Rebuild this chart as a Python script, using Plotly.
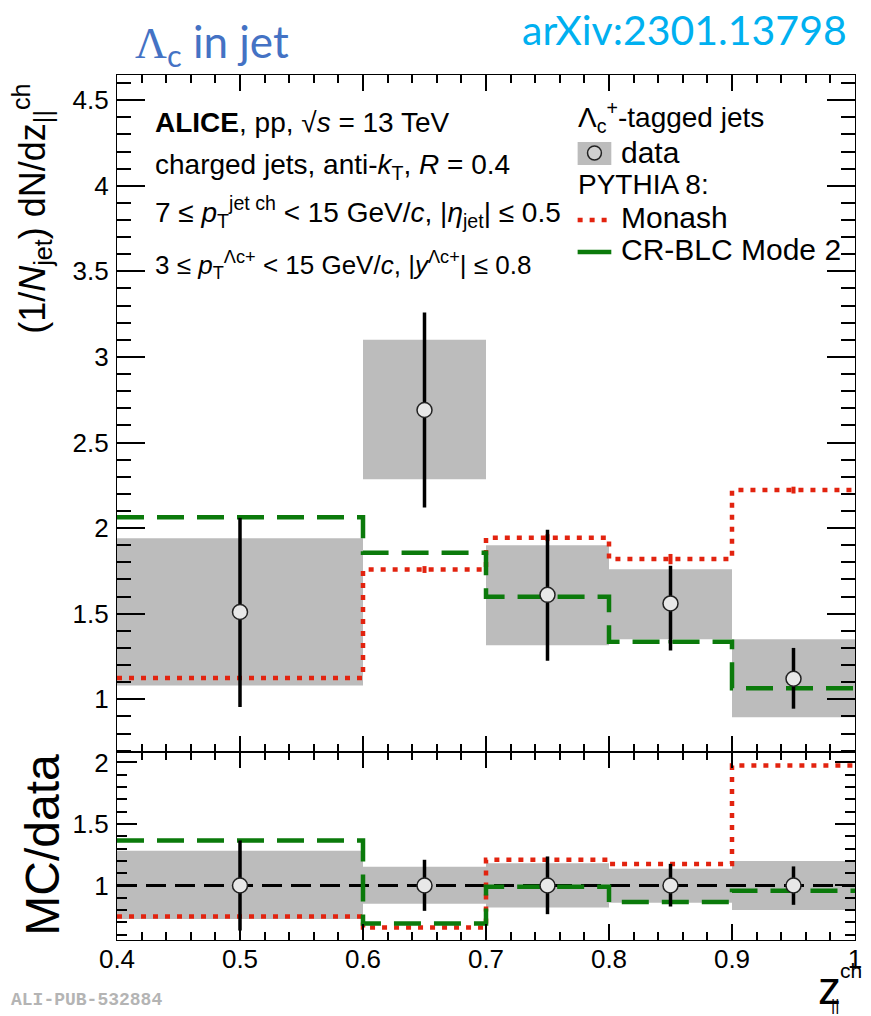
import plotly.graph_objects as go
from plotly.subplots import make_subplots

# ---------------- data ----------------
bin_edges = [0.4, 0.6, 0.7, 0.8, 0.9, 1.0]
bin_centers = [0.5, 0.65, 0.75, 0.85, 0.95]
bin_widths = [0.2, 0.1, 0.1, 0.1, 0.1]

data_val = [1.51, 2.69, 1.61, 1.56, 1.12]
data_stat_hi = [2.06, 3.26, 1.99, 1.78, 1.30]
data_stat_lo = [0.955, 2.12, 1.225, 1.285, 0.945]
data_sys_hi = [1.94, 3.10, 1.90, 1.76, 1.35]
data_sys_lo = [1.08, 2.285, 1.315, 1.35, 0.895]

monash_val = [1.125, 1.758, 1.944, 1.819, 2.222]
monash_err = [0.01, 0.02, 0.02, 0.03, 0.02]
crblc_val = [2.063, 1.856, 1.599, 1.336, 1.064]
crblc_err = [0.005, 0.01, 0.01, 0.01, 0.01]

ratio_val = [1.0, 1.0, 1.0, 1.0, 1.0]
ratio_stat_hi = [1.366, 1.209, 1.236, 1.176, 1.155]
ratio_stat_lo = [0.634, 0.794, 0.767, 0.829, 0.843]
ratio_sys_hi = [1.282, 1.152, 1.18, 1.136, 1.20]
ratio_sys_lo = [0.727, 0.851, 0.821, 0.86, 0.80]
monash_ratio = [0.748, 0.659, 1.209, 1.174, 1.976]
crblc_ratio = [1.366, 0.691, 0.99, 0.865, 0.957]

x_ticks = [0.4, 0.5, 0.6, 0.7, 0.8, 0.9, 1.0]
x_ticklabels = ["0.4", "0.5", "0.6", "0.7", "0.8", "0.9", "1"]
y_ticks_main = [1, 1.5, 2, 2.5, 3, 3.5, 4, 4.5]
y_ticklabels_main = ["1", "1.5", "2", "2.5", "3", "3.5", "4", "4.5"]
y_ticks_ratio = [1, 1.5, 2]
y_ticklabels_ratio = ["1", "1.5", "2"]

# ---------------- style ----------------
OFF = 8                      # page body margin
W, H = 871 - OFF, 1016 - OFF
PL, PR, PT, PB = 117, 862, 75, 940   # plot area in page pixels
SPLIT = 752                  # page pixel row of the panel boundary
PW, PH = PR - PL, PB - PT
RED = "#e2230f"
GREEN = "#0b7a0b"
GRAY = "#bcbcbc"
FONT = "Liberation Sans, Arial, Helvetica, sans-serif"


def px(x):
    return (x - PL) / PW


def py(y):
    return (PB - y) / PH


fig = make_subplots(rows=2, cols=1, shared_xaxes=True, vertical_spacing=0)


def step(vals):
    return list(vals) + [vals[-1]]


def sysbox(row, hi, lo):
    fig.add_trace(go.Bar(x=bin_centers, y=[h - l for h, l in zip(hi, lo)], base=lo,
                         width=bin_widths, marker=dict(color=GRAY, line=dict(width=0)),
                         showlegend=False, hoverinfo="skip"), row=row, col=1)


def steps(row, vals, color, dash, width=4.5):
    fig.add_trace(go.Scatter(x=bin_edges, y=step(vals), mode="lines", line_shape="hv",
                             line=dict(color=color, width=width, dash=dash),
                             showlegend=False), row=row, col=1)


def model_err(row, vals, errs, color):
    fig.add_trace(go.Scatter(x=bin_centers, y=vals, mode="markers",
                             marker=dict(size=1, color=color, opacity=0),
                             error_y=dict(type="data", array=errs, color=color, thickness=4, width=0),
                             showlegend=False), row=row, col=1)


def points(row, val, hi, lo):
    fig.add_trace(go.Scatter(x=bin_centers, y=val, mode="markers",
                             marker=dict(symbol="circle", size=15, color="#e8e8e8",
                                         line=dict(color="#222222", width=1.5)),
                             error_y=dict(type="data", symmetric=False,
                                          array=[h - v for h, v in zip(hi, val)],
                                          arrayminus=[v - l for v, l in zip(val, lo)],
                                          color="black", thickness=3.5, width=0),
                             showlegend=False), row=row, col=1)


DOT = "5px,7px"
DASH = "27px,13px"

# main panel
sysbox(1, data_sys_hi, data_sys_lo)
steps(1, monash_val, RED, DOT)
steps(1, crblc_val, GREEN, DASH)
model_err(1, monash_val, monash_err, RED)
model_err(1, crblc_val, crblc_err, GREEN)
points(1, data_val, data_stat_hi, data_stat_lo)

# ratio panel
sysbox(2, ratio_sys_hi, ratio_sys_lo)
steps(2, ratio_val, "black", "20px,9px", width=3)
steps(2, monash_ratio, RED, DOT)
steps(2, crblc_ratio, GREEN, DASH)
points(2, ratio_val, ratio_stat_hi, ratio_stat_lo)

axis_common = dict(showline=True, linecolor="black", linewidth=1.3, mirror="allticks",
                   ticks="inside", tickwidth=1.5, tickcolor="black", showgrid=False, zeroline=False,
                   tickfont=dict(family=FONT, size=26, color="black"))
xminor = dict(dtick=0.02, ticklen=8, tickwidth=1.5, tickcolor="black", ticks="inside")

fig.update_layout(
    width=W, height=H,
    margin=dict(l=PL - OFF, r=W - (PR - OFF), t=PT - OFF, b=H - (PB - OFF)),
    paper_bgcolor="white", plot_bgcolor="white", barmode="overlay", showlegend=False,
    xaxis=dict(axis_common, range=[0.4, 1.0], tickvals=x_ticks, ticktext=x_ticklabels,
               showticklabels=False, ticklen=16, minor=xminor, anchor="y", domain=[0, 1]),
    xaxis2=dict(axis_common, range=[0.4, 1.0], tickvals=x_ticks, ticktext=x_ticklabels,
                showticklabels=True, ticklen=16, matches="x", minor=xminor,
                ticklabelstandoff=-4, anchor="y2", domain=[0, 1]),
    yaxis=dict(axis_common, range=[0.692, 4.647], tickvals=y_ticks_main, ticktext=y_ticklabels_main,
               ticklen=28, domain=[py(SPLIT), 1.0], ticklabelstandoff=2,
               minor=dict(dtick=0.1, ticklen=14, tickwidth=1.5, tickcolor="black", ticks="inside")),
    yaxis2=dict(axis_common, range=[0.557, 2.085], tickvals=y_ticks_ratio, ticktext=y_ticklabels_ratio,
                ticklen=20, domain=[0.0, py(SPLIT)], ticklabelstandoff=2,
                minor=dict(dtick=0.1, ticklen=10, tickwidth=1.5, tickcolor="black", ticks="inside")),
)

ann = []


def text(x, y, s, size, color="black", xanchor="left", family=FONT, angle=0, yanchor="middle"):
    ann.append(dict(x=px(x), y=py(y), xref="paper", yref="paper", text=s, showarrow=False,
                    xanchor=xanchor, yanchor=yanchor, textangle=angle,
                    font=dict(family=family, size=size, color=color)))


TITLEFONT = "Lato, Open Sans, sans-serif"
# header texts
text(133, 45, '<span style="font-family:Liberation Serif">Λ</span><sub>c</sub> in jet', 44,
     color="#4472c4", family=TITLEFONT)
text(856, 30, "arXiv:2301.13798", 41, color="#00b0f0", xanchor="right", family=TITLEFONT)

# axis titles
text(31, 209, "(1/<i>N</i><sub>jet</sub>) dN/dz<sub>||</sub><sup>ch</sup>", 36,
     xanchor="center", angle=-90)
text(41, 845, "MC/data", 48, xanchor="center", angle=-90)
text(850, 988, "z", 46, xanchor="right")
text(845, 970, "ch", 21)
text(836, 1005, "||", 16)
text(8, 1000, "<b>ALI-PUB-532884</b>", 18, color="#b4b4b4", family="Liberation Mono, Courier New, monospace")

# info block
text(153, 122, "<b>ALICE</b>, pp, √<i>s</i> = 13 TeV", 28)
text(153, 167, "charged jets, anti-<i>k</i><sub>T</sub>, <i>R</i> = 0.4", 28)
text(153, 212, "7 ≤ <i>p</i><sub>T</sub><sup>jet ch</sup> < 15 GeV/<i>c</i>, |<i>η</i><sub>jet</sub>| ≤ 0.5", 28)
text(153, 265, "3 ≤ <i>p</i><sub>T</sub><sup>Λc+</sup> < 15 GeV/<i>c</i>, |<i>y</i><sup>Λc+</sup>| ≤ 0.8", 26)

# legend
text(580, 117, "Λ<sub>c</sub><sup>+</sup>-tagged jets", 28)
text(624, 152, "data", 30)
text(580, 184, "PYTHIA 8:", 28)
text(624, 217, "Monash", 30)
text(624, 250, "CR-BLC Mode 2", 30)

shapes = [
    dict(type="rect", xref="paper", yref="paper", x0=px(582), x1=px(616), y0=py(165), y1=py(142),
         fillcolor=GRAY, line=dict(width=0)),
    dict(type="circle", xref="paper", yref="paper", x0=px(592), x1=px(606), y0=py(160), y1=py(146),
         fillcolor="#d0d0d0", line=dict(color="#222222", width=1.5)),
    dict(type="line", xref="paper", yref="paper", x0=px(582), x1=px(618), y0=py(220), y1=py(220),
         line=dict(color=RED, width=4.5, dash=DOT)),
    dict(type="line", xref="paper", yref="paper", x0=px(582), x1=px(616), y0=py(252), y1=py(252),
         line=dict(color=GREEN, width=4.5)),
]

fig.update_layout(annotations=ann, shapes=shapes)
fig.write_html("out.html")
